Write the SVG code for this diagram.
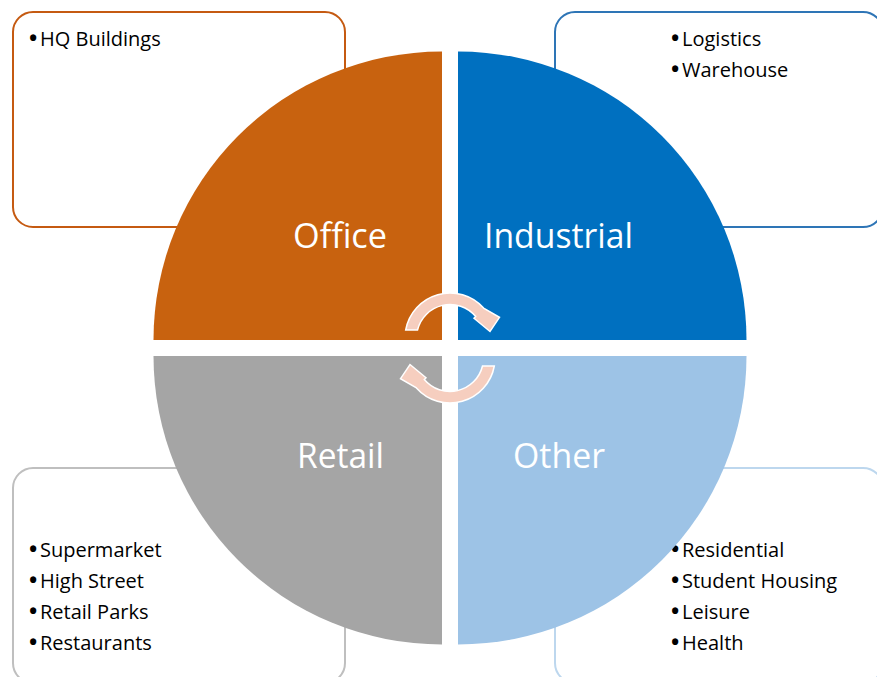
<svg xmlns="http://www.w3.org/2000/svg" width="877" height="677" viewBox="0 0 877 677">
  <style>
    .box { fill: #FFFFFF; stroke-width: 2; }
    .item { font-family: "Open Sans", "Liberation Sans", sans-serif; font-size: 20px; fill: #000000; }
    .bul { font-size: 22px; font-weight: 700; }
    .label { font-family: "Open Sans", "Liberation Sans", sans-serif; font-size: 34px; fill: #FFFFFF; text-anchor: middle; }
    .arrow { fill: #F6CEBF; stroke: #FFFFFF; stroke-width: 1.5; stroke-linejoin: miter; }
  </style>
  <defs>
    <path id="circArrow" d="M405.7,330 A45,45 0 0 1 483.6,308.1 L499.5,317.3 L490,331.5 L474,318.3 L475.7,316.5 A33.5,33.5 0 0 0 417.5,330 Z"/>
  </defs>
  <rect width="877" height="677" fill="#FFFFFF"/>

  <g id="office-box">
    <rect class="box" x="13" y="12" width="332" height="215" rx="20" ry="20" stroke="#C55A11"/>
    <text class="item" y="46"><tspan class="bul" x="29">•</tspan><tspan x="40">HQ Buildings</tspan></text>
  </g>
  <g id="industrial-box">
    <rect class="box" x="555" y="12" width="328" height="215" rx="20" ry="20" stroke="#2E75B6"/>
    <text class="item" y="46"><tspan class="bul" x="671">•</tspan><tspan x="682">Logistics</tspan></text>
    <text class="item" y="77"><tspan class="bul" x="671">•</tspan><tspan x="682">Warehouse</tspan></text>
  </g>
  <g id="retail-box">
    <rect class="box" x="13" y="468" width="332" height="215" rx="20" ry="20" stroke="#BFBFBF"/>
    <text class="item" y="557"><tspan class="bul" x="29">•</tspan><tspan x="40">Supermarket</tspan></text>
    <text class="item" y="588"><tspan class="bul" x="29">•</tspan><tspan x="40">High Street</tspan></text>
    <text class="item" y="619"><tspan class="bul" x="29">•</tspan><tspan x="40">Retail Parks</tspan></text>
    <text class="item" y="650"><tspan class="bul" x="29">•</tspan><tspan x="40">Restaurants</tspan></text>
  </g>
  <g id="other-box">
    <rect class="box" x="555" y="468" width="328" height="215" rx="20" ry="20" stroke="#BDD7EE"/>
    <text class="item" y="557"><tspan class="bul" x="671">•</tspan><tspan x="682">Residential</tspan></text>
    <text class="item" y="588"><tspan class="bul" x="671">•</tspan><tspan x="682">Student Housing</tspan></text>
    <text class="item" y="619"><tspan class="bul" x="671">•</tspan><tspan x="682">Leisure</tspan></text>
    <text class="item" y="650"><tspan class="bul" x="671">•</tspan><tspan x="682">Health</tspan></text>
  </g>

  <g id="office">
    <path d="M442,340 L153.5,340 A288.5,288.5 0 0 1 442,51.5 Z" fill="#C8620F"/>
    <text class="label" x="340" y="248" textLength="94" lengthAdjust="spacingAndGlyphs">Office</text>
  </g>
  <g id="industrial">
    <path d="M458,340 L458,51.5 A288.5,288.5 0 0 1 746.5,340 Z" fill="#0070C0"/>
    <text class="label" x="558.5" y="248" textLength="149" lengthAdjust="spacingAndGlyphs">Industrial</text>
  </g>
  <g id="retail">
    <path d="M442,356 L442,644.5 A288.5,288.5 0 0 1 153.5,356 Z" fill="#A5A5A5"/>
    <text class="label" x="340.5" y="468" textLength="87" lengthAdjust="spacingAndGlyphs">Retail</text>
  </g>
  <g id="other">
    <path d="M458,356 L746.5,356 A288.5,288.5 0 0 1 458,644.5 Z" fill="#9DC3E6"/>
    <text class="label" x="559" y="468" textLength="92" lengthAdjust="spacingAndGlyphs">Other</text>
  </g>

  <g id="connectors">
    <use href="#circArrow" class="arrow"/>
    <use href="#circArrow" class="arrow" transform="rotate(180 450 348)"/>
  </g>
</svg>
